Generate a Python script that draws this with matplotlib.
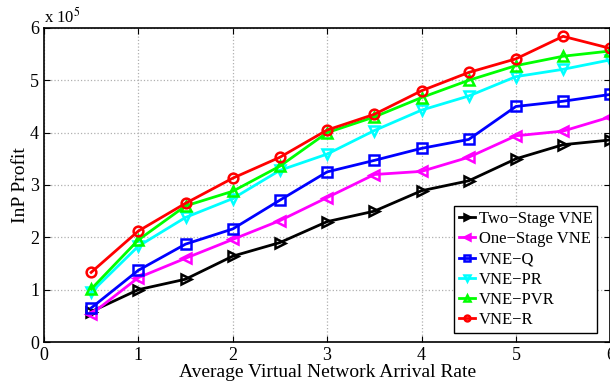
import matplotlib.pyplot as plt
import numpy as np

plt.rcParams['font.family'] = ['Liberation Serif', 'DejaVu Serif']
plt.rcParams['mathtext.fontset'] = 'stix'

rate = [0.5, 1, 1.5, 2, 2.5, 3, 3.5, 4, 4.5, 5, 5.5, 6]

two_stage = [0.58, 1.00, 1.20, 1.64, 1.90, 2.30, 2.50, 2.89, 3.08, 3.50, 3.77, 3.86]
one_stage = [0.53, 1.23, 1.60, 1.96, 2.32, 2.76, 3.20, 3.26, 3.53, 3.94, 4.03, 4.30]
vne_q = [0.65, 1.37, 1.87, 2.16, 2.71, 3.25, 3.47, 3.70, 3.87, 4.50, 4.60, 4.73]
vne_pr = [0.95, 1.83, 2.38, 2.74, 3.28, 3.59, 4.04, 4.43, 4.70, 5.07, 5.21, 5.39]
vne_pvr = [1.01, 1.95, 2.60, 2.88, 3.36, 4.00, 4.30, 4.67, 5.00, 5.28, 5.46, 5.56]
vne_r = [1.33, 2.12, 2.65, 3.13, 3.53, 4.05, 4.35, 4.80, 5.15, 5.41, 5.84, 5.61]

labels = ['Two\u2212Stage VNE', 'One\u2212Stage VNE', 'VNE\u2212Q', 'VNE\u2212PR', 'VNE\u2212PVR', 'VNE\u2212R']
series = [two_stage, one_stage, vne_q, vne_pr, vne_pvr, vne_r]
colors = ['black', '#ff00ff', '#0000ff', '#00ffff', '#00ff00', '#ff0000']
markers = ['>', '<', 's', 'v', '^', 'o']

fig = plt.figure(figsize=(6.1, 3.83), dpi=100)
ax = fig.add_axes([0.072, 0.107, 0.9285, 0.820])

for ys, lab, c, m in zip(series, labels, colors, markers):
    ax.plot(rate, np.array(ys) * 1e5, color=c, marker=m, markersize=7,
            markerfacecolor='none', markeredgecolor=c, markeredgewidth=1.8,
            linewidth=2, label=lab)

ax.set_xlim(0, 6)
ax.set_ylim(0, 6e5)
ax.set_xticks(range(0, 7))
ax.set_yticks(np.arange(0, 7) * 1e5)
ax.set_yticklabels([str(i) for i in range(7)])
ax.tick_params(direction='in', top=True, right=True, labelsize=13, length=4)
ax.grid(True, linestyle=':', color='#b0b0b0', linewidth=0.9)
for s in ax.spines.values():
    s.set_linewidth(1.2)

ax.set_xlabel('Average Virtual Network Arrival Rate', fontsize=14, labelpad=0)
ax.set_ylabel('InP Profit', fontsize=14, labelpad=1)
ax.text(0.0, 1.005, 'x 10$^5$', transform=ax.transAxes, fontsize=12,
        ha='left', va='bottom')

leg = ax.legend(loc='lower right', bbox_to_anchor=(0.977, 0.029), fontsize=12,
                handlelength=1.0, handletextpad=0.2, borderpad=0.3,
                borderaxespad=0, labelspacing=0.25, fancybox=False,
                framealpha=1, edgecolor='black', markerscale=0.6)
leg.get_frame().set_linewidth(1.0)

fig.savefig('out.png', dpi=100)
